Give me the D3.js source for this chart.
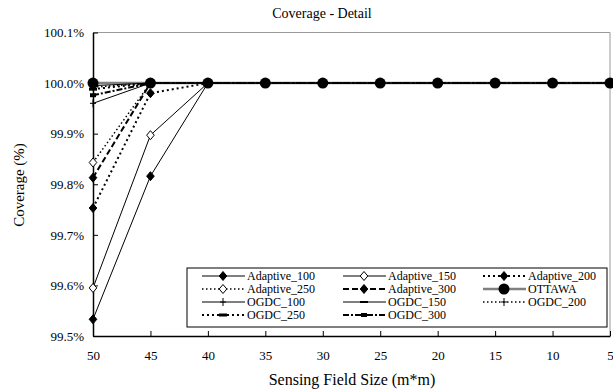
<!DOCTYPE html>
<html>
<head>
<meta charset="utf-8">
<script src="https://cdn.jsdelivr.net/npm/d3@7"></script>
<style>
  body { margin: 0; background: #fff; }
  text { font-family: "Liberation Serif", "Times New Roman", "DejaVu Serif", serif; }
</style>
</head>
<body>
<svg id="chart" width="613" height="390"></svg>
<script>
// x categories (sensing field size) and tick labels
const fieldSizes = ['50', '45', '40', '35', '30', '25', '20', '15', '10', '5'];
const yTicks = [99.5, 99.6, 99.7, 99.8, 99.9, 100.0, 100.1];

// coverage (%) per series
const adaptive100 = [99.533, 99.816, 100, 100, 100, 100, 100, 100, 100, 100];
const adaptive150 = [99.595, 99.897, 100, 100, 100, 100, 100, 100, 100, 100];
const adaptive200 = [99.753, 99.980, 100, 100, 100, 100, 100, 100, 100, 100];
const adaptive250 = [99.843, 100, 100, 100, 100, 100, 100, 100, 100, 100];
const adaptive300 = [99.813, 100, 100, 100, 100, 100, 100, 100, 100, 100];
const ottawa      = [100, 100, 100, 100, 100, 100, 100, 100, 100, 100];
const ogdc100     = [99.960, 100, 100, 100, 100, 100, 100, 100, 100, 100];
const ogdc150     = [99.995, 100, 100, 100, 100, 100, 100, 100, 100, 100];
const ogdc200     = [99.992, 100, 100, 100, 100, 100, 100, 100, 100, 100];
const ogdc250     = [99.988, 100, 100, 100, 100, 100, 100, 100, 100, 100];
const ogdc300     = [99.976, 100, 100, 100, 100, 100, 100, 100, 100, 100];

const series = [
  { name: 'Adaptive_100', values: adaptive100, dash: null, width: 1, color: '#000', marker: 'diamond' },
  { name: 'Adaptive_150', values: adaptive150, dash: null, width: 1, color: '#000', marker: 'diamondOpen' },
  { name: 'Adaptive_200', values: adaptive200, dash: '2,3', width: 2, color: '#000', marker: 'diamond' },
  { name: 'Adaptive_250', values: adaptive250, dash: '1.5,2.5', width: 1.5, color: '#000', marker: 'diamondOpen' },
  { name: 'Adaptive_300', values: adaptive300, dash: '6,3', width: 2, color: '#000', marker: 'diamond' },
  { name: 'OTTAWA', values: ottawa, dash: null, width: 2.5, color: '#808080', marker: 'circle' },
  { name: 'OGDC_100', values: ogdc100, dash: null, width: 1, color: '#000', marker: 'plus' },
  { name: 'OGDC_150', values: ogdc150, dash: null, width: 1, color: '#000', marker: 'bar' },
  { name: 'OGDC_200', values: ogdc200, dash: '1.5,2.5', width: 1.5, color: '#000', marker: 'plus' },
  { name: 'OGDC_250', values: ogdc250, dash: '2,3', width: 2, color: '#000', marker: 'barThick' },
  { name: 'OGDC_300', values: ogdc300, dash: '6,2,2,2', width: 2, color: '#000', marker: 'square' }
];

const serif = '"Liberation Serif", "Times New Roman", serif';
const svg = d3.select('#chart');
const plotLeft = 93, plotRight = 610, plotTop = 32.5, plotBottom = 336;

const x = d3.scalePoint().domain(fieldSizes).range([plotLeft, plotRight]);
const y = d3.scaleLinear().domain([99.5, 100.1]).range([plotBottom, plotTop]);

// title
svg.append('text')
  .attr('x', 322).attr('y', 18)
  .attr('text-anchor', 'middle')
  .attr('font-family', serif)
  .attr('font-size', 14)
  .text('Coverage - Detail');

// plot frame (top / right gray)
svg.append('path')
  .attr('d', `M${plotLeft},${plotTop}H${plotRight}V${plotBottom}`)
  .attr('fill', 'none')
  .attr('stroke', '#999')
  .attr('stroke-width', 1);

// axes
const yAxis = d3.axisLeft(y)
  .tickValues(yTicks)
  .tickFormat(d => d.toFixed(1) + '%')
  .tickSizeInner(-5).tickSizeOuter(0).tickPadding(9);
const gy = svg.append('g').attr('transform', `translate(${plotLeft},0)`).call(yAxis);

const xAxis = d3.axisBottom(x)
  .tickSizeInner(-5).tickSizeOuter(0).tickPadding(15);
const gx = svg.append('g').attr('transform', `translate(0,${plotBottom})`).call(xAxis);

[gx, gy].forEach(g => {
  g.attr('font-family', serif).attr('font-size', 13);
  g.select('.domain').attr('stroke', '#000').attr('stroke-width', 1.5);
  g.selectAll('.tick line').attr('stroke', '#000');
  g.selectAll('.tick text').attr('fill', '#000');
});

// axis titles
svg.append('text')
  .attr('transform', 'translate(24,185) rotate(-90)')
  .attr('text-anchor', 'middle')
  .attr('font-family', serif)
  .attr('font-size', 15)
  .text('Coverage (%)');
svg.append('text')
  .attr('x', 352).attr('y', 385)
  .attr('text-anchor', 'middle')
  .attr('font-family', serif)
  .attr('font-size', 16)
  .text('Sensing Field Size (m*m)');

function drawMarker(g, type, cx, cy) {
  if (type === 'diamond' || type === 'diamondOpen') {
    g.append('path')
      .attr('d', `M${cx},${cy - 4.5}L${cx + 3.8},${cy}L${cx},${cy + 4.5}L${cx - 3.8},${cy}Z`)
      .attr('fill', type === 'diamond' ? '#000' : '#fff')
      .attr('stroke', '#000').attr('stroke-width', 1);
  } else if (type === 'circle') {
    g.append('circle').attr('cx', cx).attr('cy', cy).attr('r', 5.5).attr('fill', '#000');
  } else if (type === 'plus') {
    g.append('path')
      .attr('d', `M${cx - 3},${cy}H${cx + 3}M${cx},${cy - 4}V${cy + 4}`)
      .attr('stroke', '#000').attr('stroke-width', 1);
  } else if (type === 'bar' || type === 'barThick') {
    const h = type === 'bar' ? 2 : 3;
    g.append('rect').attr('x', cx - 4).attr('y', cy - h / 2).attr('width', 8).attr('height', h).attr('fill', '#000');
  } else if (type === 'square') {
    g.append('rect').attr('x', cx - 3).attr('y', cy - 2).attr('width', 6).attr('height', 4).attr('fill', '#000');
  }
}

const line = d3.line()
  .x((d, i) => x(fieldSizes[i]))
  .y(d => y(d));

const plot = svg.append('g');
series.forEach(s => {
  plot.append('path')
    .datum(s.values)
    .attr('d', line)
    .attr('fill', 'none')
    .attr('stroke', s.color)
    .attr('stroke-width', s.width)
    .attr('stroke-dasharray', s.dash);
});
series.forEach(s => {
  const g = plot.append('g');
  s.values.forEach((v, i) => drawMarker(g, s.marker, x(fieldSizes[i]), y(v)));
});

// legend
const legend = svg.append('g');
legend.append('rect')
  .attr('x', 187).attr('y', 268).attr('width', 420).attr('height', 59)
  .attr('fill', '#fff').attr('stroke', '#000').attr('stroke-width', 1);
const colX = [202, 343, 483];
const rowY = [276, 289, 302, 315];
series.forEach((s, i) => {
  const cx = colX[i % 3], cy = rowY[Math.floor(i / 3)];
  const g = legend.append('g');
  g.append('line')
    .attr('x1', cx).attr('x2', cx + 43).attr('y1', cy).attr('y2', cy)
    .attr('stroke', s.color).attr('stroke-width', s.width)
    .attr('stroke-dasharray', s.dash);
  drawMarker(g, s.marker, cx + 21, cy);
  g.append('text')
    .attr('x', cx + 45).attr('y', cy + 4)
    .attr('font-family', serif)
    .attr('font-size', 12)
    .text(s.name);
});
</script>
</body>
</html>
